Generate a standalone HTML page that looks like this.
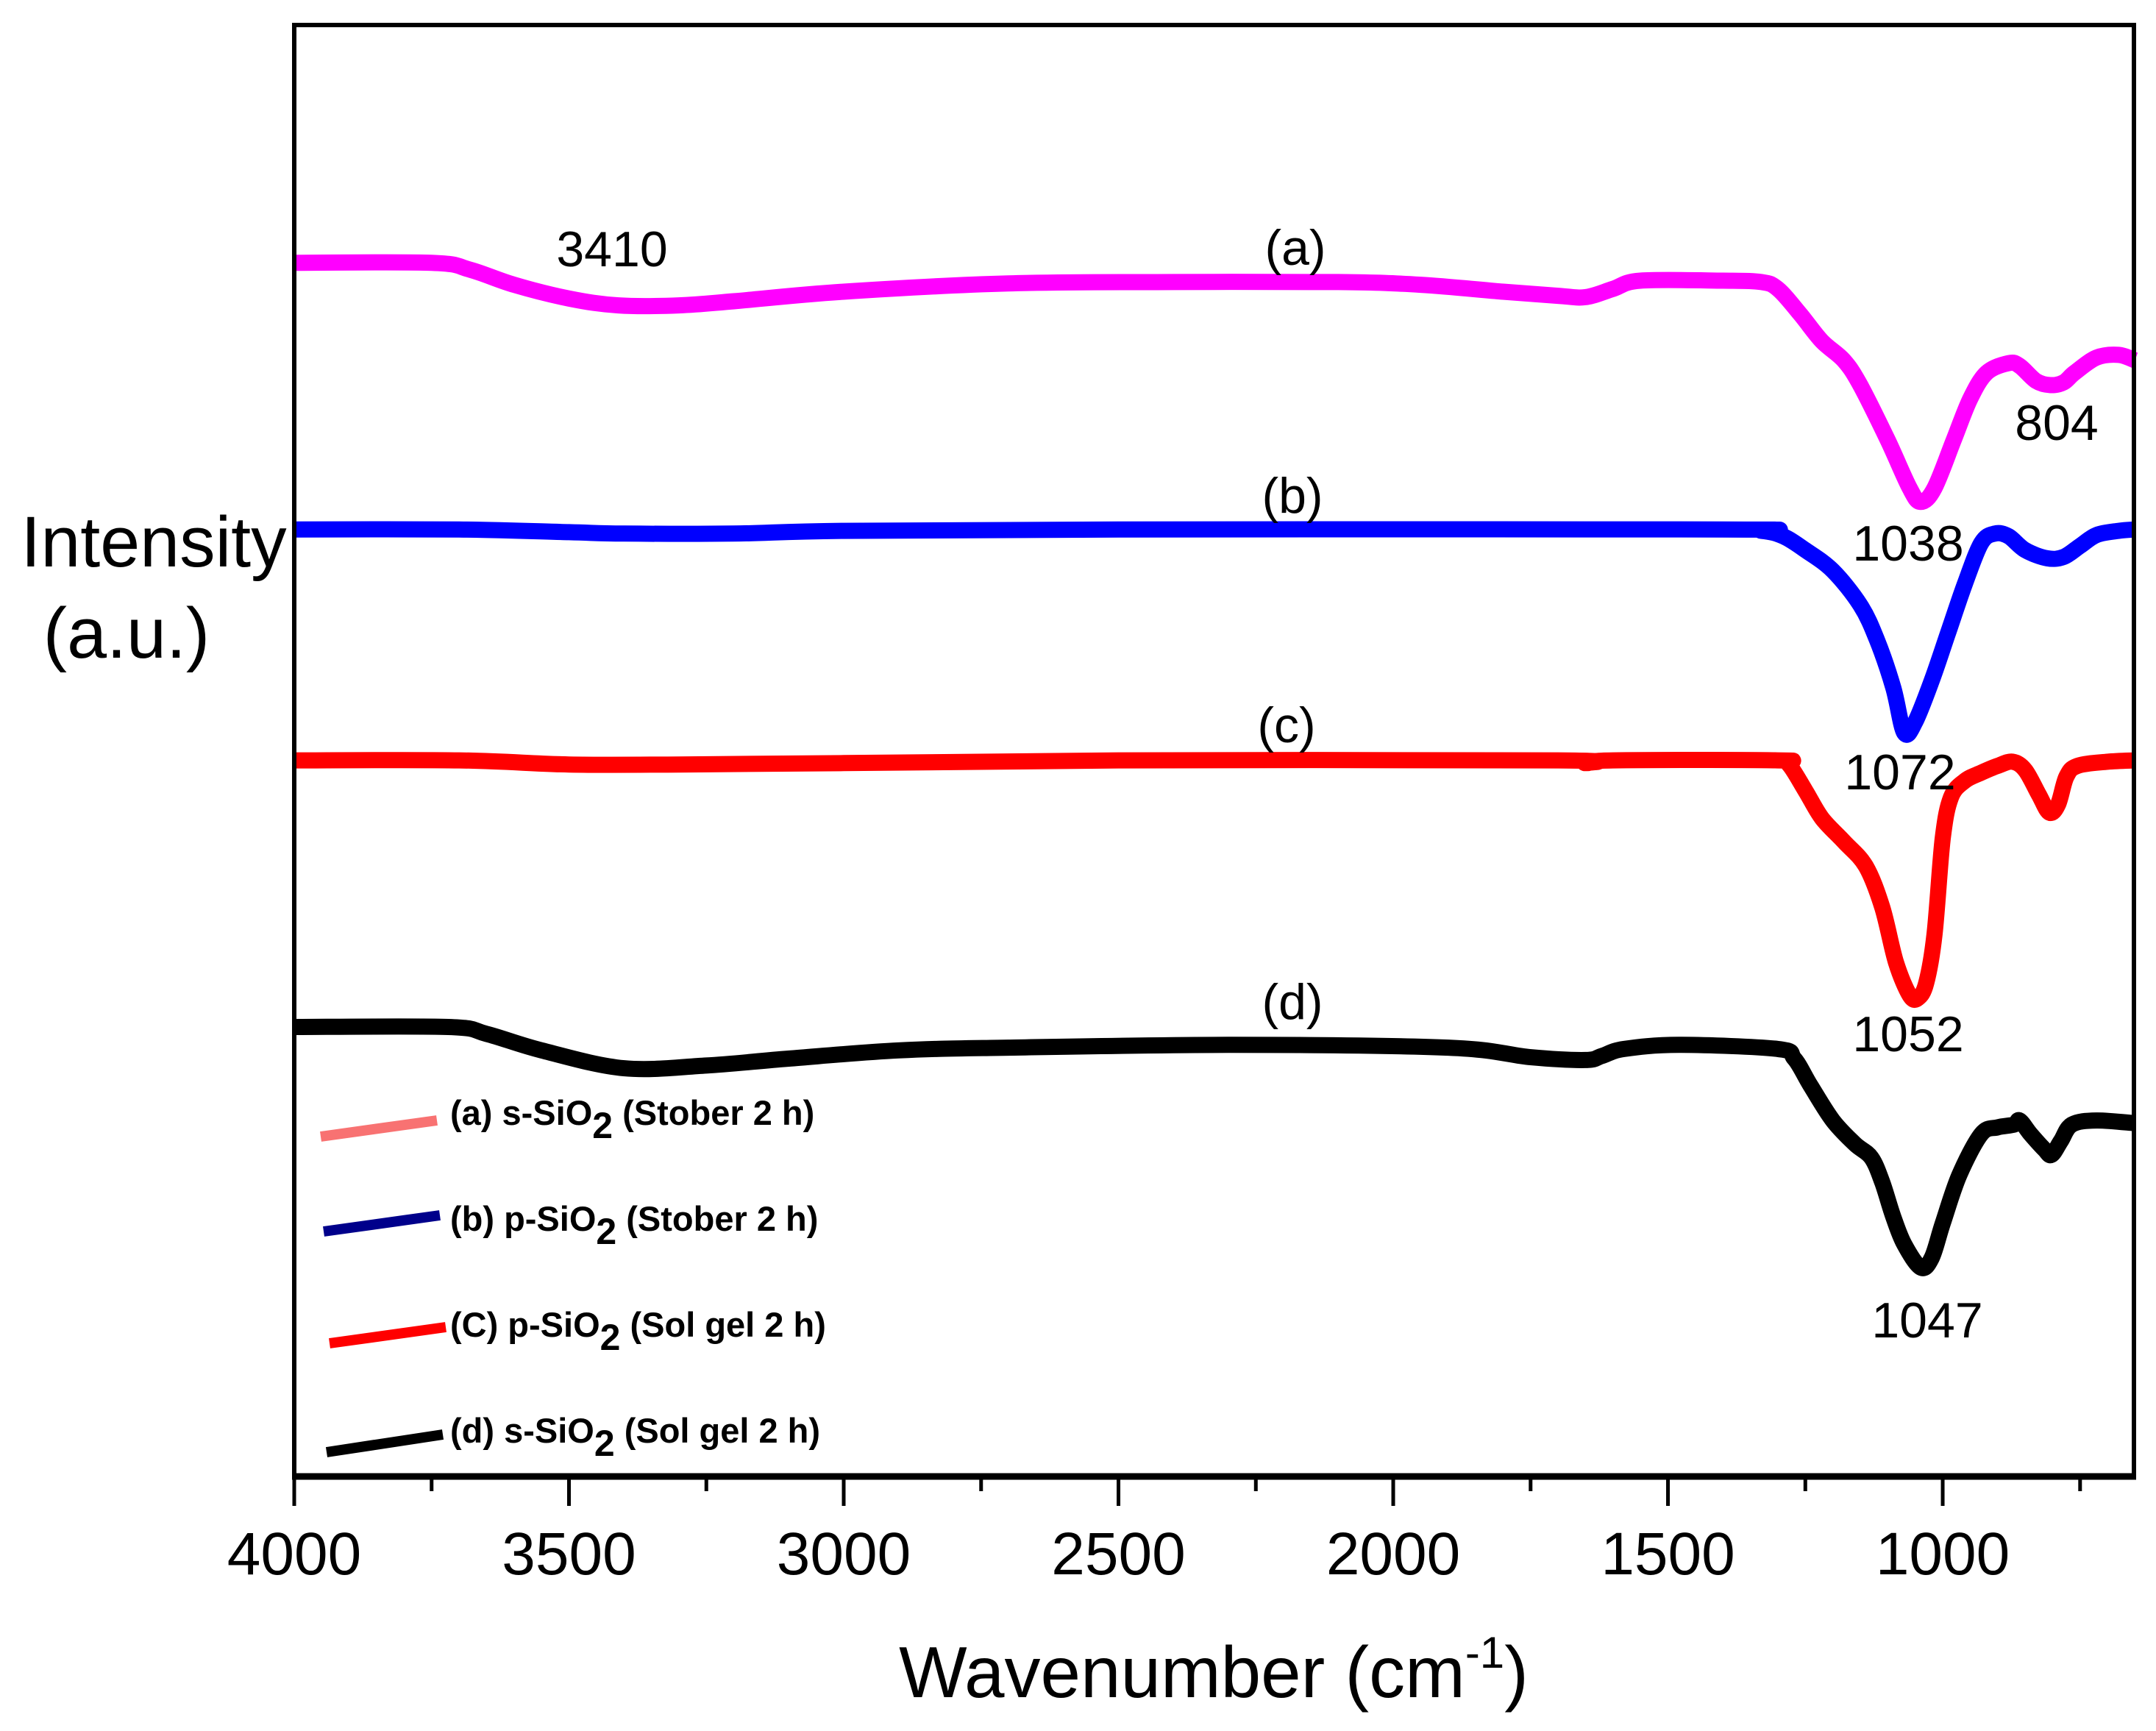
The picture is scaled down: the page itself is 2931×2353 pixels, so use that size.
<!DOCTYPE html>
<html><head><meta charset="utf-8"><style>
html,body{margin:0;padding:0;background:#fff;}
svg{display:block;font-family:"Liberation Sans",Arial,sans-serif;}
</style></head><body>
<svg id="chart" width="2931" height="2353" viewBox="0 0 2931 2353" xmlns="http://www.w3.org/2000/svg">
<rect x="0" y="0" width="2931" height="2353" fill="#ffffff"/>
<g id="curves"></g>
<g id="axes"></g>
</svg>
<script>
const xTicks = [4000, 3500, 3000, 2500, 2000, 1500, 1000];
const xMinorTicks = [3750, 3250, 2750, 2250, 1750, 1250, 750];
const wnA = [4000,3750,3680,3600,3500,3410,3300,3200,3000,2700,2400,2100,1950,1800,1700,1650,1600,1550,1400,1330,1300,1260,1220,1180,1150,1100,1060,1040,1015,980,950,920,880,860,830,804,780,760,720,680,650];
const intA = [883,883,878,867,857,852,852,855,862,868,869,869,867,862,859,858,864,870,870,869,864,846,826,812,794,754,719,709,719,754,784,803,810,808,797,794,796,803,814,816,812];
const wnB = [4000,3700,3500,3400,3200,3000,2500,1400,1330,1290,1250,1200,1150,1120,1090,1070,1050,1020,990,960,930,905,880,850,810,780,750,720,680,650];
const intB = [689,689,687,686,686,688,689,689,688,684,674,659,634,609,574,541,549,579,614,649,679,686,684,674,668,669,677,685,688,689];
const wnC = [4000,3700,3500,3300,3000,2500,1700,1650,1600,1300,1280,1250,1220,1180,1140,1110,1085,1060,1045,1030,1015,1000,985,960,930,900,873,850,825,806,790,775,755,700,650];
const intC = [521,521,518,518,519,521,521,519,521,521,518,499,479,462,444,414,374,350,348,359,394,464,494,506,512,517,520,514,496,483,489,509,517,520,521];
const wnD = [4000,3720,3650,3550,3400,3250,3100,2900,2700,2300,1900,1750,1650,1620,1580,1480,1300,1270,1240,1200,1160,1130,1110,1090,1070,1040,1020,1000,970,930,900,870,860,840,815,802,785,765,720,650];
const intD = [327,327,322,310,297,299,304,310,312,314,312,305,303,306,311,314,311,304,284,259,242,232,214,189,169,152,159,184,219,249,254,256,259,249,238,234,244,256,259,257];
const seriesNames = ["a","b","c","d"];
const seriesColors = ["#ff00ff","#0000ff","#ff0000","#000000"];

const L=400,R=2901,T=34,B=2007;
const xScale = w => L + (4000 - w) * (R - L) / (4000 - 652);
const yScale = v => B - v * (B - T) / 1056;
const NS="http://www.w3.org/2000/svg";
function mk(tag, parent){const e=document.createElementNS(NS,tag);parent.appendChild(e);return e;}

const cg=document.getElementById('curves');
[[wnA,intA],[wnB,intB],[wnC,intC],[wnD,intD]].forEach((s,i)=>{
  const p=mk('path',cg);
  
  
  const pts=s[0].map((w,k)=>[xScale(w),yScale(s[1][k])]);
  let d='M'+pts[0][0].toFixed(1)+','+pts[0][1].toFixed(1);
  for(let k=1;k<pts.length;k++){
    const p0=pts[k-2]||pts[k-1],p1=pts[k-1],p2=pts[k],p3=pts[k+1]||pts[k];
    const c1x=p1[0]+(p2[0]-p0[0])/6,c1y=p1[1]+(p2[1]-p0[1])/6;
    const c2x=p2[0]-(p3[0]-p1[0])/6,c2y=p2[1]-(p3[1]-p1[1])/6;
    d+=' C'+c1x.toFixed(1)+','+c1y.toFixed(1)+' '+c2x.toFixed(1)+','+c2y.toFixed(1)+' '+p2[0].toFixed(1)+','+p2[1].toFixed(1);
  }
  p.setAttribute('d',d);
  p.setAttribute('fill','none');
  p.setAttribute('stroke',seriesColors[i]);
  p.setAttribute('stroke-width','22');
  p.setAttribute('stroke-linejoin','round');
});

const ag=document.getElementById('axes');
const frame=mk('rect',ag);


frame.setAttribute('x',L);frame.setAttribute('y',T);frame.setAttribute('width',R-L);frame.setAttribute('height',B-T);
frame.setAttribute('fill','none');frame.setAttribute('stroke','#000');frame.setAttribute('stroke-width','6');
const bl=mk('line',ag);


bl.setAttribute('x1',L-3);bl.setAttribute('x2',R+3);bl.setAttribute('y1',B);bl.setAttribute('y2',B);
bl.setAttribute('stroke','#000');bl.setAttribute('stroke-width','9');
xTicks.forEach(t=>{
  const l=mk('line',ag);
  
  
  l.setAttribute('x1',xScale(t));l.setAttribute('x2',xScale(t));l.setAttribute('y1',B);l.setAttribute('y2',B+40);
  l.setAttribute('stroke','#000');l.setAttribute('stroke-width','5');
  const tx=mk('text',ag);
  
  
  tx.setAttribute('x',xScale(t));tx.setAttribute('y',2140);tx.setAttribute('font-size','82');tx.setAttribute('text-anchor','middle');
  tx.textContent=t;
});
xMinorTicks.forEach(t=>{
  const l=mk('line',ag);
  
  
  l.setAttribute('x1',xScale(t));l.setAttribute('x2',xScale(t));l.setAttribute('y1',B);l.setAttribute('y2',B+20);
  l.setAttribute('stroke','#000');l.setAttribute('stroke-width','5');
});
</script>
<svg style="position:absolute;left:0;top:0" width="2931" height="2353" viewBox="0 0 2931 2353" font-family="Liberation Sans, Arial, sans-serif">
<text x="1650" y="2307" font-size="98" text-anchor="middle">Wavenumber (cm<tspan dy="-40" font-size="60">-1</tspan><tspan dy="40">)</tspan></text>
<text x="209" y="770" font-size="97" text-anchor="middle">Intensity</text>
<text x="172" y="894" font-size="97" text-anchor="middle">(a.u.)</text>
<g font-size="68" text-anchor="middle">
<text x="832" y="362">3410</text>
<text x="1761" y="360">(a)</text>
<text x="1757" y="697">(b)</text>
<text x="1749" y="1009">(c)</text>
<text x="1757" y="1385">(d)</text>
<text x="2594" y="762">1038</text>
<text x="2796" y="598">804</text>
<text x="2583" y="1073">1072</text>
<text x="2594" y="1429">1052</text>
<text x="2620" y="1818">1047</text>
</g>
<g font-size="47" font-weight="bold">
<line x1="436" y1="1545" x2="594" y2="1523" stroke="#f87272" stroke-width="14"/>
<text x="612" y="1529">(a) s-SiO<tspan dy="18" font-size="50">2</tspan><tspan dy="-18"> (Stober 2 h)</tspan></text>
<line x1="440" y1="1674" x2="598" y2="1652" stroke="#00008b" stroke-width="14"/>
<text x="612" y="1673">(b) p-SiO<tspan dy="18" font-size="50">2</tspan><tspan dy="-18"> (Stober 2 h)</tspan></text>
<line x1="448" y1="1826" x2="606" y2="1804" stroke="#ff0000" stroke-width="14"/>
<text x="612" y="1817">(C) p-SiO<tspan dy="18" font-size="50">2</tspan><tspan dy="-18"> (Sol gel 2 h)</tspan></text>
<line x1="444" y1="1974" x2="602" y2="1950" stroke="#000000" stroke-width="14"/>
<text x="612" y="1961">(d)  s-SiO<tspan dy="18" font-size="50">2</tspan><tspan dy="-18"> (Sol gel 2 h)</tspan></text>
</g>
</svg>
</body></html>
